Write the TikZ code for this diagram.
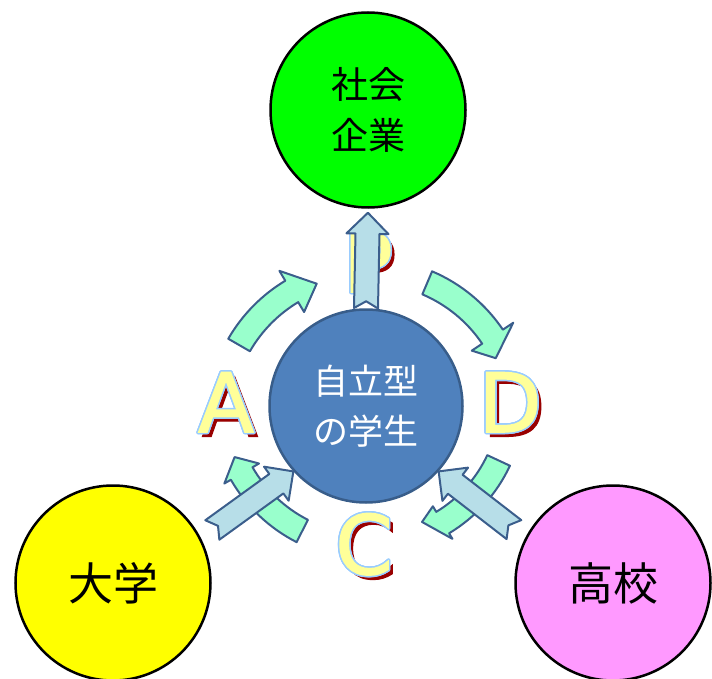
\documentclass[tikz,border=0pt]{standalone}
\usepackage{fontspec}
\setmainfont{Liberation Sans}
\newfontfamily\jfont{Noto Sans CJK JP}
\newfontfamily\cyclefont[FakeBold=1.6]{DejaVu Sans}
\usepackage{contour}
\contourlength{1.5pt}
\usetikzlibrary{calc}
\definecolor{socgreen}{RGB}{0,255,0}
\definecolor{uniyellow}{RGB}{255,255,0}
\definecolor{hspink}{RGB}{255,153,255}
\definecolor{selfblue}{RGB}{79,129,189}
\definecolor{selfedge}{RGB}{56,93,138}
\definecolor{edgeblue}{RGB}{59,94,140}
\definecolor{cyclegreen}{RGB}{153,255,204}
\definecolor{pushblue}{RGB}{183,222,232}
\definecolor{letterfill}{RGB}{255,255,153}
\definecolor{letteredge}{RGB}{153,204,255}
\definecolor{lettershade}{RGB}{153,0,0}
\tikzset{
  party/.style={circle,draw=black,line width=2.5pt,minimum size=195pt,inner sep=0pt,align=center,font=\jfont\fontsize{45}{50}\selectfont},
  selfnode/.style={circle,fill=selfblue,draw=selfedge,line width=2.5pt,minimum size=193pt,inner sep=0pt,align=center,text=white,font=\jfont\fontsize{35}{50}\selectfont},
  cyclearrow/.style={fill=cyclegreen,draw=edgeblue,line width=2pt,line join=round},
  pusharrow/.style={fill=pushblue,draw=edgeblue,line width=2pt,line join=round},
  letter/.style={inner sep=0pt,font=\cyclefont\fontsize{82}{82}\selectfont}
}
% curved arrow: centre, radius, tail angle, head angle, tip angle, tip radius, barb
\newcommand{\cyclearc}[7]{%
  \draw[cyclearrow,shift={(#1)}] (#3:{#2+12.5}) arc[start angle=#3,end angle=#4,radius={#2+12.5}]
    -- (#4:{#2+#7}) -- (#5:#6) -- (#4:{#2-#7}) -- (#4:{#2-12.5})
    arc[start angle=#4,end angle=#3,radius={#2-12.5}] -- cycle;}
% notched block arrow: tail, tip
\newcommand{\pushblock}[2]{%
  \path ($(#2)!21pt!(#1)$) coordinate (hb);
  \draw[pusharrow] ($(#1)!12pt!90:(#2)$) -- ($(hb)!12pt!90:(#2)$) -- ($(hb)!21pt!90:(#2)$) -- (#2)
    -- ($(hb)!21pt!-90:(#2)$) -- ($(hb)!12pt!-90:(#2)$) -- ($(#1)!12pt!-90:(#2)$) -- ($(#1)!7pt!(#2)$) -- cycle;}
\begin{document}
\begin{tikzpicture}[x=1pt,y=-1pt]
\useasboundingbox (0,0) rectangle (712,679);
%Partners
\node[party,fill=socgreen,font=\jfont\fontsize{37}{51}\selectfont] (soc) at (368,110) {社会\\企業};
\node[party,fill=uniyellow] (uni) at (113,583) {大学};
\node[party,fill=hspink] (hs) at (613,583) {高校};
%Student
\node[selfnode] (self) at (366,406) {自立型\\の学生};
%Cycle
\cyclearc{369,420}{150}{210}{239}{249}{146}{24}
\cyclearc{369,420}{149}{293}{326}{334}{141}{25}
\cyclearc{369,400}{143}{25}{59}{66.5}{133}{19}
\cyclearc{369,400}{147}{117}{150}{157}{146}{20}
%Letters
\foreach \name/\pos/\txt in {plan/{368,263}/P,do/{510,403}/D,check/{364,545}/C,act/{226,403}/A}
  {
    \node[letter,text=lettershade] (\name-s) at ($(\pos)+(4,3.5)$) {\txt};
    \node[letter,text=letterfill] (\name) at (\pos) {\contour{letteredge}{\txt}};
  }
%Block arrows
\coordinate (upt) at (self.north);
\coordinate (uph) at ($(soc.south)!4pt!(self.north)$);
\coordinate (unit) at ($(uni.27)!14pt!(self.222)$);
\coordinate (hst) at ($(hs.153)!14pt!(self.318)$);
\pushblock{upt}{uph}
\pushblock{unit}{self.222}
\pushblock{hst}{self.318}
\end{tikzpicture}
\end{document}
